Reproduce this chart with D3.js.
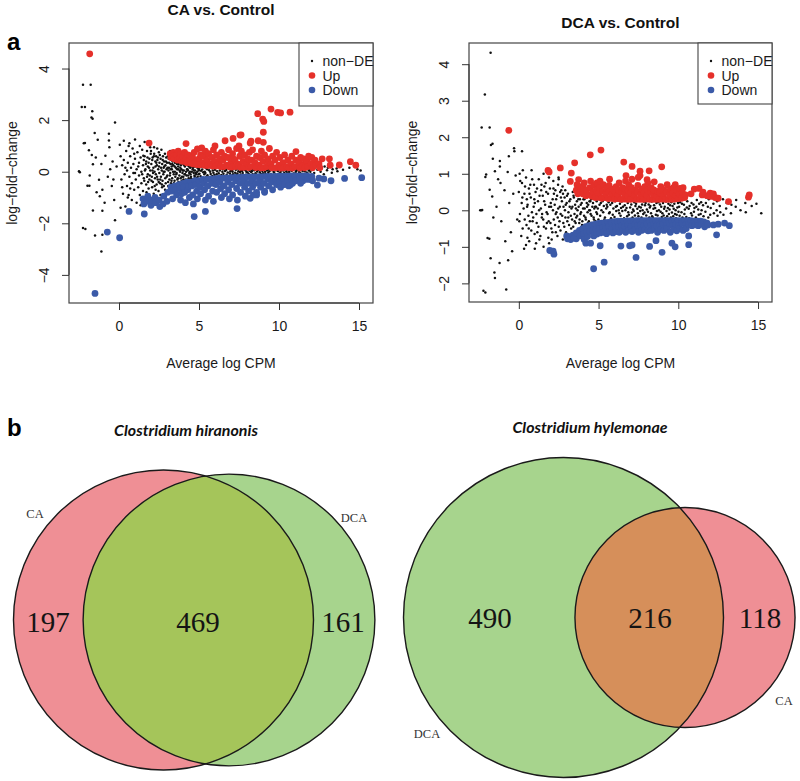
<!DOCTYPE html>
<html>
<head>
<meta charset="utf-8">
<script src="https://cdn.jsdelivr.net/npm/d3@7"></script>
<style>
  body { margin: 0; background: #fff; }
  svg { display: block; font-family: "Liberation Sans", Arial, sans-serif; }
  .axis path, .axis line { stroke: #333; stroke-width: 1; }
  .axis text { font-size: 14px; fill: #1a1a1a; font-family: "Liberation Sans", Arial, sans-serif; }
</style>
</head>
<body>
<svg id="fig" width="800" height="781"></svg>
<script>
// ---- data: MA plots (x = average log CPM, y = log-fold-change) ----
const cpmTicks = [0, 5, 10, 15];
const caFcTicks = [-4, -2, 0, 2, 4];
const dcaFcTicks = [-2, -1, 0, 1, 2, 3, 4];
const legendLabels = ['non\u2212DE', 'Up', 'Down'];

const caNonDE = [
  [-2.5,.02],[-2.45,-.02],[-2.25,3.37],[-1.77,3.37],[-2.33,2.51],[-2.13,2.51],[-1.67,2.34],[-1.72,2.1],[-1.65,2.05],[-.25,1.91],
  [-1.52,1.5],[-1.33,1.24],[-.63,1.47],[-.63,1.21],[-2.13,1.11],[-1.88,.83],[-1.63,.29],[-1.83,-.15],[-1.97,-.54],[-1.85,-.54],
  [-1.25,-.31],[-1.04,-.7],[-1.2,-.95],[-1.63,-1.5],[-1.04,-1.51],[-.25,-1.88],[-2.25,-2.18],[-2.1,-2.22],[-1.5,-2.47],[-1.04,-2.44],
  [-1.1,-3.09],[-2.2,1.1],[-1.45,.55],[-1.1,.3],[-.85,.62],[-.6,.95],[-.4,.4],[-.7,-.2],[-.45,-.55],[-.9,-1.2],
  [-.3,-1.1],[-1.4,-.8],[-.15,.2],[-.55,.1],[-1.7,.65],[-.35,-.3],
  [.05,1.05],[.1,.6],[.15,-.3],[.2,.25],[.25,-.85],[.3,1.2],[.3,.45],[.35,-.1],[.4,-1.35],[.45,.8],
  [.5,.05],[.5,-.55],[.55,.35],[.6,1.0],[.6,-.9],[.65,-.2],[.7,.6],[.75,.15],[.8,-1.1],[.8,-.45],
  [.85,.9],[.9,.3],[.9,-.05],[.95,-.7],[1.0,1.25],[1.0,.5],[1.05,-.3],[1.1,.1],[1.1,-1.2],[1.15,.75],
  [1.2,-.6],[1.25,.35],[1.25,-.15],[1.3,1.0],[1.3,-.9],[1.35,.55],[1.4,0],[1.4,-.45],[1.45,.85],[1.5,.25],
  [1.5,-.75],[1.55,-.25],[1.6,.6],[1.6,1.15],[1.65,.1],[1.65,-1.05],[1.7,-.5],[1.7,.4],[1.75,.8],[1.8,-.1],
  [1.8,.2],[1.85,-.65],[1.9,.5],[1.9,-.3],[1.95,.95],[1.95,.05],[.2,-.6],[.4,.15],[.7,-.65],[1.0,-.05],
  [1.2,.2],[1.45,-.1],[1.75,-.2],[.55,-1.0],[1.35,-1.3],[.95,.7],[1.55,.45],[1.85,.35],[.1,-1.4],[.65,1.1],
  [1.52,.62],[1.58,-.35],[1.62,.05],[1.68,.3],[1.72,-.8],[1.78,.55],[1.82,-.4],[1.88,.15],[1.92,-.15],[1.98,.7],
  [2.0,.8],[2.02,.3],[2.05,-.2],[2.07,-.6],[2.09,.05],[2.1,.55],[2.12,-.4],[2.15,.15],[2.17,-.85],[2.19,.95],
  [2.2,.7],[2.22,0],[2.25,-.25],[2.27,.4],[2.29,-.7],[2.3,-.1],[2.32,.6],[2.35,-.5],[2.37,.25],[2.39,.9],
  [2.4,.45],[2.42,-.3],[2.45,.1],[2.47,-.75],[2.49,.75],[2.5,.2],[2.52,-.05],[2.55,.65],[2.57,-.45],[2.59,-.9],
  [2.6,.5],[2.62,-.2],[2.65,.85],[2.67,.05],[2.69,-.6],[2.7,.3],[2.72,-.35],[2.75,.6],[2.77,-.1],[2.79,.15],
  [2.8,-.55],[2.82,.4],[2.85,0],[2.87,.7],[2.89,-.25],[2.9,.25],[2.92,-.45],[2.95,.55],[2.97,.1],[2.99,-.8],
  [2.03,-.35],[2.08,.45],[2.13,-.05],[2.18,.6],[2.23,-.55],[2.28,.2],[2.33,.35],[2.38,-.2],[2.43,.55],[2.48,-.4],
  [2.53,.35],[2.58,-.3],[2.63,.15],[2.68,-.5],[2.73,.45],[2.78,0],[2.83,.2],[2.88,-.7],[2.93,.4],[2.98,-.2],
  [3.0,.35],[3.02,-.15],[3.05,.6],[3.07,-.4],[3.09,.05],[3.1,.5],[3.12,.15],[3.15,-.3],[3.17,-.6],[3.19,.8],
  [3.2,-.05],[3.22,.3],[3.25,-.45],[3.27,.45],[3.29,.2],[3.3,.1],[3.32,-.25],[3.35,.4],[3.37,-.55],[3.39,.6],
  [3.4,.25],[3.42,-.1],[3.45,.5],[3.47,-.35],[3.49,0],[3.5,.35],[3.52,-.2],[3.55,.15],[3.57,-.5],[3.59,.45],
  [3.6,-.05],[3.62,.3],[3.65,-.3],[3.67,.55],[3.69,.1],[3.7,.2],[3.72,-.4],[3.75,.4],[3.77,-.15],[3.79,.05],
  [3.8,.45],[3.82,0],[3.85,-.25],[3.87,.25],[3.89,-.5],[3.9,.1],[3.92,-.35],[3.95,.35],[3.97,-.05],[3.99,.5],
  [3.03,.15],[3.08,-.55],[3.13,.35],[3.18,-.15],[3.23,.1],[3.28,-.35],[3.33,.3],[3.38,0],[3.43,-.45],[3.48,.2],
  [3.53,.4],[3.58,-.1],[3.63,.1],[3.68,-.25],[3.73,.3],[3.78,-.45],[3.83,.15],[3.88,.4],[3.93,-.2],[3.98,.05],
  [4.0,.3],[4.02,-.2],[4.05,.05],[4.07,-.45],[4.09,.4],[4.1,-.1],[4.12,.2],[4.15,.45],[4.17,-.3],[4.19,0],
  [4.2,.35],[4.22,-.15],[4.25,.1],[4.27,-.4],[4.29,.25],[4.3,.05],[4.32,.4],[4.35,-.25],[4.37,.2],[4.39,-.05],
  [4.4,.3],[4.42,-.35],[4.45,.15],[4.47,-.1],[4.49,.45],[4.5,-.2],[4.52,.25],[4.55,0],[4.57,.4],[4.59,-.4],
  [4.6,.1],[4.62,-.3],[4.65,.3],[4.67,-.05],[4.69,.2],[4.7,.35],[4.72,-.15],[4.75,.05],[4.77,-.35],[4.79,.25],
  [4.8,-.05],[4.82,.2],[4.85,-.25],[4.87,.4],[4.89,0],[4.9,.15],[4.92,-.2],[4.95,.3],[4.97,-.1],[4.99,.05],
  [4.03,-.3],[4.08,.25],[4.13,-.1],[4.18,.3],[4.23,-.35],[4.28,.1],[4.33,-.15],[4.38,.35],[4.43,0],[4.48,-.25],
  [4.53,.2],[4.58,-.3],[4.63,.15],[4.68,.05],[4.73,-.2],[4.78,.3],[4.83,-.1],[4.88,.2],[4.93,-.3],[4.98,.1],
  [5.0,.12],[5.03,-.08],[5.06,.28],[5.1,-.18],[5.13,.04],[5.16,.2],[5.2,.09],[5.23,-.25],[5.26,-.02],[5.3,.22],
  [5.33,-.1],[5.36,0],[5.4,-.05],[5.43,.15],[5.46,-.2],[5.5,.1],[5.53,-.14],[5.56,.25],[5.6,-.22],[5.63,.06],
  [5.66,.17],[5.7,0],[5.73,-.09],[5.76,.2],[5.8,.14],[5.83,-.17],[5.86,.05],[5.9,-.04],[5.93,.21],[5.96,-.12],
  [6.0,.08],[6.03,-.2],[6.06,.16],[6.1,-.1],[6.13,.02],[6.16,.23],[6.2,.18],[6.23,-.06],[6.26,-.16],[6.3,.05],
  [6.33,.12],[6.36,-.22],[6.4,-.13],[6.43,.19],[6.46,0],[6.5,.1],[6.53,-.08],[6.56,.2],[6.6,-.18],[6.63,.03],
  [6.66,.14],[6.7,.07],[6.73,-.12],[6.76,.22],[6.8,-.03],[6.83,.16],[6.86,-.19],[6.9,.11],[6.93,-.07],[6.96,.02],
  [7.0,-.15],[7.03,.2],[7.06,.06],[7.1,0],[7.13,-.1],[7.16,.13],[7.2,.17],[7.23,-.17],[7.26,-.04],[7.3,.08],
  [7.33,.21],[7.36,-.13],[7.4,-.07],[7.43,.12],[7.46,.02],[7.5,.15],[7.53,-.16],[7.56,-.01],[7.6,-.11],[7.63,.06],
  [7.66,.19],[7.7,.03],[7.73,-.05],[7.76,.14],[7.8,-.17],[7.83,.1],[7.86,.2],[7.9,.06],[7.93,-.12],[7.96,0],
  [8.0,.12],[8.03,-.03],[8.06,-.18],[8.1,-.08],[8.13,.18],[8.16,.04],[8.2,.14],[8.23,-.14],[8.26,-.01],[8.3,.02],
  [8.33,.09],[8.36,-.1],[8.4,-.15],[8.43,.2],[8.46,.06],[8.5,.1],[8.53,-.06],[8.56,.15],[8.6,-.12],[8.63,.01],
  [8.66,.18],[8.7,.07],[8.73,-.16],[8.76,.12],[8.8,-.02],[8.83,.14],[8.86,-.09],[8.9,.16],[8.93,-.12],[8.96,.03],
  [9.0,-.06],[9.03,.1],[9.06,-.17],[9.1,.13],[9.13,0],[9.16,-.08],[9.2,-.14],[9.23,.17],[9.26,.05],[9.3,.09],
  [9.33,-.04],[9.36,-.12],[9.4,.02],[9.43,.15],[9.46,-.16],[9.5,-.09],[9.53,.07],[9.56,.18],[9.6,.12],[9.63,-.13],
  [9.66,0],[9.7,-.04],[9.73,.16],[9.76,-.1],[9.8,.06],[9.83,-.15],[9.86,.13],[9.9,-.12],[9.93,.03],[9.96,.09],
  [10.0,.14],[10.03,-.06],[10.06,-.15],[10.1,0],[10.13,.11],[10.16,-.09],[10.2,-.13],[10.23,.17],[10.26,.05],[10.3,.08],
  [10.33,-.04],[10.36,-.16],[10.4,.15],[10.43,-.11],[10.46,.02],[10.5,-.06],[10.53,.09],[10.56,-.14],[10.6,.12],[10.63,0],
  [10.66,-.08],[10.7,-.15],[10.73,.16],[10.76,.06],[10.8,.04],[10.83,-.1],[10.86,.13],[10.9,-.07],[10.93,.1],[10.96,-.17],
  [11.0,.14],[11.03,-.05],[11.06,.02],[11.1,-.12],[11.13,.08],[11.16,.18],[11.2,.06],[11.23,-.14],[11.26,-.02],[11.3,-.04],
  [11.33,.15],[11.36,-.1],[11.4,.11],[11.43,-.08],[11.46,.04],[11.5,-.16],[11.53,.07],[11.56,.14],[11.6,.02],[11.63,-.12],
  [11.66,.1],[11.7,.16],[11.73,-.03],[11.76,-.09],[11.8,-.07],[11.83,.11],[11.86,.05],[11.9,.09],[11.93,-.15],[11.96,0],
  [12.0,.1],[12.05,-.12],[12.1,.2],[12.2,-.05],[12.25,.15],[12.4,.08],[12.45,-.18],[12.5,.22],[12.6,0],[12.65,.12],
  [12.8,-.1],[12.85,.2],[13.0,.06],[13.05,.15],[13.3,-.04],[13.35,.1],[13.6,.12],[13.65,.02],[14.0,.08],[14.4,.15],
  [14.9,.1],[15.1,.05]
];

const caUp = [
  [-1.83,4.57],[1.88,1.11],[4.19,1.09],[5.17,.92],[8.67,2.25],[8.98,2.04],[9.05,1.95],[9.5,2.43],[9.92,2.3],[10.1,2.28],
  [10.69,2.31],[9.02,1.53],[9.02,1.14],[7.63,1.43],[7.13,1.29],[6.63,1.2],[8.2,1.11],[13.15,.5],[13.77,.26],[14.46,.39],
  [14.8,.25],[13.2,.25],[12.7,.5],[7.56,1.42],[11.06,.78],[6.0,1.0],[3.4,.75],[7.5,1.0],[8.25,1.18],[8.7,1.2],
  [3.2,.7],[3.25,.55],[3.4,.6],[3.45,.5],[3.6,.65],[3.65,.45],[3.7,.8],[3.8,.55],[3.85,.7],[3.9,.42],
  [4.0,.6],[4.05,.4],[4.1,.75],[4.2,.5],[4.25,.35],[4.3,.65],[4.4,.45],[4.45,.62],[4.5,.33],[4.6,.55],
  [4.65,.3],[4.7,.75],[4.8,.4],[4.85,.28],[4.9,.88],[5.0,.5],[5.05,.27],[5.1,.65],[5.25,.35],[5.3,.6],
  [5.35,.25],[5.4,.8],[5.5,.45],[5.55,.24],[5.6,.7],[5.75,.3],[5.8,.55],[5.85,.22],[5.9,.85],[6.0,.4],
  [6.05,.22],[6.1,.65],[6.25,.3],[6.3,.5],[6.35,.2],[6.4,.75],[6.5,.45],[6.55,.2],[6.6,.6],[6.75,.25],
  [6.8,.55],[6.85,.85],[6.9,.19],[7.0,.35],[7.05,.18],[7.1,.7],[7.15,.5],[7.25,.45],[7.3,.2],[7.35,.9],
  [7.4,.3],[7.5,.25],[7.55,.6],[7.6,.17],[7.65,.8],[7.75,.4],[7.8,.17],[7.85,.65],[8.0,.3],[8.05,.5],
  [8.1,.16],[8.15,.75],[8.25,.2],[8.3,.45],[8.35,.85],[8.5,.35],[8.55,.16],[8.6,.6],[8.75,.25],[8.8,.55],
  [8.85,.15],[8.9,.8],[9.0,.4],[9.05,.15],[9.1,.65],[9.25,.2],[9.3,.5],[9.35,.35],[9.4,.9],[9.5,.3],
  [9.55,.15],[9.6,.6],[9.75,.45],[9.8,.15],[9.85,.75],[10.0,.25],[10.05,.55],[10.1,.14],[10.25,.35],[10.3,.15],
  [10.35,.65],[10.5,.2],[10.55,.45],[10.6,.15],[10.75,.3],[10.8,.6],[10.85,.14],[11.0,.2],[11.05,.45],[11.25,.35],
  [11.3,.14],[11.35,.55],[11.5,.25],[11.55,.5],[11.6,.15],[11.75,.4],[11.8,.2],[11.85,.6],[12.0,.3],[12.05,.55],
  [12.1,.15],[12.25,.45],[12.3,.25],[12.5,.3],[12.55,.15]
];

const caDown = [
  [-1.5,-4.72],[-.73,-2.34],[.04,-2.56],[.63,-1.54],[1.58,-1.64],[4.7,-1.74],[5.4,-1.54],[7.38,-1.43],[8.2,-1.03],[15.17,-.23],
  [14.1,-.26],[13.25,-.35],[12.4,-.52],[8.6,-.9],[9.1,-.8],[10.7,-.52],[11.5,-.35],[12.0,-.3],[12.8,-.28],
  [1.5,-1.05],[1.55,-1.25],[1.75,-1.15],[1.8,-.95],[2.0,-1.3],[2.05,-1.1],[2.25,-1.0],[2.3,-1.2],[2.5,-1.1],[2.55,-1.35],
  [2.75,-1.25],[2.8,-.95],[3.0,-1.15],[3.05,-.8],[3.25,-.6],[3.3,-.75],[3.35,-1.05],[3.5,-.55],[3.55,-.7],[3.6,-.9],
  [3.75,-.5],[3.8,-.65],[3.85,-1.1],[3.9,-.85],[4.0,-.45],[4.05,-.6],[4.1,-.8],[4.15,-1.2],[4.25,-.4],[4.3,-.7],
  [4.35,-.55],[4.4,-1.0],[4.5,-.4],[4.55,-.55],[4.6,-.9],[4.65,-1.25],[4.75,-.35],[4.8,-.5],[4.85,-.75],[4.9,-1.05],
  [5.0,-.35],[5.05,-.6],[5.1,-.85],[5.25,-.3],[5.3,-.45],[5.35,-.7],[5.4,-1.1],[5.5,-.3],[5.55,-.55],[5.6,-.95],
  [5.75,-.28],[5.8,-.45],[5.85,-.75],[5.9,-1.15],[6.0,-.27],[6.05,-.5],[6.1,-.8],[6.25,-.25],[6.3,-.4],[6.35,-.65],
  [6.4,-1.0],[6.5,-.25],[6.55,-.55],[6.6,-.85],[6.75,-.24],[6.8,-.4],[6.85,-.7],[6.9,-1.05],[7.0,-.23],[7.05,-.5],
  [7.1,-.9],[7.25,-.22],[7.3,-.35],[7.35,-.65],[7.4,-1.1],[7.5,-.22],[7.55,-.45],[7.6,-.8],[7.75,-.21],[7.8,-.35],
  [7.85,-.6],[7.9,-.95],[8.0,-.2],[8.05,-.45],[8.1,-.75],[8.25,-.2],[8.3,-.35],[8.35,-.6],[8.4,-.9],[8.5,-.2],
  [8.55,-.45],[8.6,-.8],[8.75,-.19],[8.8,-.35],[8.85,-.6],[9.0,-.19],[9.05,-.45],[9.1,-.75],[9.25,-.18],[9.3,-.3],
  [9.35,-.55],[9.5,-.18],[9.55,-.4],[9.6,-.7],[9.75,-.18],[9.8,-.3],[9.85,-.5],[10.0,-.17],[10.05,-.4],[10.1,-.6],
  [10.25,-.17],[10.3,-.3],[10.35,-.5],[10.5,-.17],[10.55,-.35],[10.6,-.55],[10.75,-.16],[10.8,-.3],[10.85,-.45],[11.0,-.16],
  [11.05,-.35],[11.25,-.16],[11.3,-.28],[11.35,-.45],[11.55,-.16],[11.75,-.16],[11.8,-.3],[12.05,-.18],[12.1,-.35],[12.5,-.25]
];

const dcaNonDE = [
  [-1.77,4.31],[-2.13,3.17],[-2.33,2.27],[-1.83,2.27],[-1.75,1.79],[-1.65,1.82],[-.3,1.7],[-.28,1.62],[-1.63,1.41],[-1.19,1.35],
  [-1.19,1.2],[-.63,1.48],[.2,1.62],[-2.1,.91],[-2.05,.98],[-1.5,1.07],[-2.42,0],[-2.35,0],[-2.3,.01],[-1.83,.56],
  [-1.67,.38],[-1.15,.75],[-1.96,-.76],[-1.85,-.78],[-1.77,-1.31],[-1.21,-1.44],[-.67,-1.37],[-1.53,-1.7],[-1.5,-1.85],[-2.22,-2.2],
  [-2.1,-2.25],[-.79,-2.17],[-.42,-1.12],[-1.4,.1],[-.9,.55],[-.6,.2],[-1.1,-.3],[-.5,-.6],[-.2,.95],[-.85,-.85],
  [-1.6,-.2],[-.35,.45],[-.1,-.25],[-1.3,.85],[-.7,1.05],
  [0,.5],[.03,-.3],[.05,1.0],[.15,-.7],[.18,.2],[.2,.75],[.3,.05],[.33,-1.05],[.35,.45],[.45,.9],
  [.48,-.4],[.5,.3],[.6,-.15],[.63,.6],[.65,-.85],[.75,.35],[.78,-.55],[.8,1.1],[.9,-.2],[.93,.1],
  [.95,.7],[1.05,.5],[1.08,-.9],[1.1,-.1],[1.2,.25],[1.23,-.45],[1.25,.85],[1.35,-.7],[1.38,.05],[1.4,.55],
  [1.5,.4],[1.53,-.25],[1.55,-1.0],[1.65,.15],[1.68,.75],[1.7,-.5],[1.8,-.1],[1.83,.45],[1.85,-.75],[1.95,.6],
  [1.98,-.35],[2.0,.2],[2.1,-.6],[2.12,.3],[2.14,0],[2.16,.8],[2.25,.15],[2.27,-.4],[2.29,.55],[2.31,-.1],
  [2.4,.4],[2.42,-.7],[2.44,-.2],[2.46,.7],[2.55,-.3],[2.57,.1],[2.59,.5],[2.61,-.55],[2.7,.25],[2.72,-.15],
  [2.74,.65],[2.76,-.8],[2.85,-.45],[2.87,.35],[2.89,0],[2.91,.55],
  [.07,-.1],[.09,.8],[.22,.35],[.24,-.5],[.37,-.25],[.39,.65],[.52,.1],[.54,-.75],[.67,.45],[.69,-.3],
  [.82,-.05],[.84,.85],[.97,.3],[.99,-.65],[1.12,-.35],[1.14,.6],[1.27,0],[1.29,-.8],[1.42,.7],[1.44,-.2],
  [1.57,-.45],[1.59,.25],[1.72,.5],[1.74,-.05],[1.87,-.3],[1.89,.9],[2.02,.1],[2.04,-.5],[2.17,.6],[2.19,-.25],
  [2.32,-.6],[2.34,.3],[2.47,.05],[2.49,.9],[2.62,-.1],[2.64,.35],[2.77,.45],[2.79,-.35],[2.92,-.2],[2.94,.15],
  [.55,.15],[.62,-.5],[.72,.7],[.86,-.3],[1.0,.2],[1.16,-.6],[1.3,.4],[1.46,-.1],[1.6,.65],[1.76,-.35],
  [1.9,.1],[2.06,-.8],[2.2,.45],[2.36,-.05],[2.5,-.45],[2.66,.55],[2.8,.1],[2.96,-.6],[3.02,.4],[3.1,-.2],
  [3.17,.25],[3.28,-.5],[3.36,.1],[3.43,.4],[3.5,-.3],[3.58,.05],[3.66,-.15],[3.73,.3],[3.81,-.25],[3.88,.15],
  [3.96,-.4],[4.03,.05],[4.11,.3],[4.18,-.2],[4.26,.2],[4.33,-.35],[4.41,0],[4.48,.25],[4.56,-.15],[4.63,.35],
  [4.71,-.25],[4.78,.1],[4.86,-.05],[4.93,.3],[.25,1.1],[.45,-.95],[1.0,-1.05],[1.9,-.9],[2.5,.85],[1.55,1.0],
  [3.0,.2],[3.04,-.3],[3.08,.45],[3.11,-.05],[3.15,-.4],[3.19,.1],[3.23,.3],[3.26,-.15],[3.3,.05],[3.34,-.25],
  [3.38,.5],[3.41,-.45],[3.45,.35],[3.49,-.1],[3.53,.15],[3.56,-.35],[3.6,-.2],[3.64,.25],[3.68,0],[3.71,.4],
  [3.75,.1],[3.79,-.35],[3.83,.3],[3.86,-.1],[3.9,-.05],[3.94,.2],[3.98,-.3],[4.01,.4],[4.05,.3],[4.09,-.15],
  [4.13,.05],[4.16,-.4],[4.2,-.25],[4.24,.35],[4.28,.1],[4.31,-.05],[4.35,.15],[4.39,-.3],[4.43,.25],[4.46,0],
  [4.5,-.1],[4.54,.3],[4.58,-.35],[4.61,.1],[4.65,.2],[4.69,-.2],[4.73,.05],[4.76,.35],[4.8,-.3],[4.84,.1],
  [4.88,.25],[4.91,-.1],[4.95,.05],[4.99,-.25],[5.03,.3],[5.06,.15],[5.1,-.15],[5.14,.2],[5.18,0],[5.21,-.3],
  [5.25,.25],[5.29,-.05],[5.33,.12],[5.36,-.25],[5.4,-.2],[5.44,.3],[5.48,.05],[5.51,.15],[5.55,.1],[5.59,-.3],
  [5.63,.22],[5.66,-.08],[5.7,-.05],[5.74,.15],[5.78,-.22],[5.81,.28],[5.85,.2],[5.89,-.12],[5.93,.05],[5.96,-.28],
  [6.0,-.18],[6.04,.25],[6.08,.1],[6.11,-.02],[6.15,.12],[6.19,-.25],[6.23,.28],[6.26,0],[6.3,-.08],[6.34,.18],
  [6.38,-.15],[6.41,.06],[6.45,.24],[6.49,-.02],[6.53,.1],[6.56,-.27],[6.6,-.22],[6.64,.14],[6.68,0],[6.71,.27],
  [6.75,.06],[6.79,-.16],[6.83,.2],[6.86,-.05],[6.9,-.12],[6.94,.26],[6.98,.08],[7.01,-.24],[7.05,.16],[7.09,-.06],
  [7.13,-.2],[7.16,.02],[7.2,-.02],[7.24,.22],[7.28,-.14],[7.31,.12],[7.35,.18],[7.39,-.24],[7.43,.04],[7.46,-.08],
  [7.5,-.16],[7.54,.1],[7.58,.26],[7.61,-.02],[7.65,.08],[7.69,-.2],[7.73,.16],[7.76,0],[7.8,-.1],[7.84,.24],
  [7.88,-.06],[7.91,.14],[7.95,.2],[7.99,-.14],[8.03,.02],[8.06,-.24],[8.1,-.04],[8.14,.16],[8.18,-.2],[8.21,.08],
  [8.25,.12],[8.29,-.08],[8.33,.24],[8.36,-.16],[8.4,-.2],[8.44,.04],[8.48,.14],[8.51,.26],[8.55,.06],[8.59,-.12],
  [8.63,.2],[8.66,-.02],[8.7,-.14],[8.74,.22],[8.78,0],[8.81,-.24],[8.85,.16],[8.89,-.04],[8.93,.1],[8.96,-.18],
  [9.0,-.08],[9.04,.2],[9.08,-.14],[9.11,.04],[9.15,.1],[9.19,-.22],[9.23,.24],[9.26,-.02],[9.3,-.16],[9.34,.06],
  [9.38,.18],[9.41,-.1],[9.45,.02],[9.49,.14],[9.53,-.2],[9.56,.22],[9.6,-.06],[9.64,.12],[9.68,-.16],[9.71,.04],
  [9.75,.18],[9.79,-.1],[9.83,0],[9.86,-.22],[9.9,-.12],[9.94,.08],[9.98,.2],[10.01,-.04],
  [10.05,.1],[10.08,-.15],[10.11,.22],[10.2,-.05],[10.23,.18],[10.26,-.2],[10.35,.15],[10.38,-.1],[10.41,.02],[10.5,-.18],
  [10.53,.08],[10.56,.25],[10.65,.04],[10.68,-.22],[10.71,.12],[10.8,-.08],[10.83,.2],[10.86,-.14],[10.95,.16],[10.98,-.04],
  [11.01,.06],[11.1,-.2],[11.13,.1],[11.16,.28],[11.25,.02],[11.28,-.12],[11.31,.18],[11.4,-.1],[11.43,.22],[11.46,0],
  [11.55,.14],[11.58,-.16],[11.7,-.04],[11.73,.2],[11.85,.1],[11.88,-.2],[11.91,.3],[12.0,-.12],[12.03,.06],[12.2,.18],
  [12.23,-.08],[12.4,0],[12.43,.25],[12.46,-.15],[12.6,.12],[12.63,-.05],[12.8,.3],[12.83,-.12],[13.0,.05],[13.03,.2],
  [13.3,-.08],[13.33,.15],[13.6,.1],[13.63,.28],[13.9,0],[14.2,.2],[14.23,-.05],[14.6,.12],[14.9,.18],[15.2,-.08]
];

const dcaUp = [
  [-.63,2.19],[1.83,1.09],[1.9,1.05],[2.6,1.16],[3.5,1.3],[3.29,1.02],[4.48,1.52],[5.15,1.65],[3.23,.79],[3.75,.84],
  [6.58,1.32],[7.1,1.2],[7.6,1.07],[7.6,.95],[8.17,1.08],[8.96,1.19],[8.04,.84],[9.81,.7],[11,.58],[12,.47],
  [13.15,.24],[14.4,.36],[14.45,.42],[10.3,.62],[11.3,.6],[11.8,.4],[12.3,.35],
  [3.6,.55],[3.65,.7],[3.7,.45],[3.8,.5],[3.85,.65],[4.0,.45],[4.05,.6],[4.1,.75],[4.2,.4],[4.25,.55],
  [4.4,.42],[4.45,.62],[4.5,.8],[4.6,.38],[4.65,.5],[4.7,.68],[4.8,.35],[4.85,.55],[4.9,.75],[5.0,.36],
  [5.03,.48],[5.06,.62],[5.09,.8],[5.2,.33],[5.25,.52],[5.3,.7],[5.4,.35],[5.45,.45],[5.5,.6],[5.6,.32],
  [5.63,.5],[5.66,.68],[5.69,.85],[5.8,.33],[5.85,.45],[5.9,.58],[6.0,.31],[6.05,.48],[6.1,.65],[6.2,.32],
  [6.23,.42],[6.26,.55],[6.29,.75],[6.4,.3],[6.45,.5],[6.5,.62],[6.6,.31],[6.63,.45],[6.66,.58],[6.69,.8],
  [6.72,.95],[6.8,.3],[6.83,.4],[6.86,.55],[6.89,.7],[7.0,.3],[7.03,.48],[7.06,.62],[7.09,.85],[7.2,.31],
  [7.25,.42],[7.3,.55],[7.4,.3],[7.43,.5],[7.46,.68],[7.49,.9],[7.6,.3],[7.65,.42],[7.7,.58],[7.8,.3],
  [7.85,.48],[7.9,.65],[8.0,.31],[8.03,.4],[8.06,.55],[8.09,.75],[8.2,.3],[8.25,.5],[8.3,.62],[8.4,.3],
  [8.43,.44],[8.46,.56],[8.49,.78],[8.6,.3],[8.65,.4],[8.7,.52],[8.8,.3],[8.85,.48],[8.9,.65],[9.0,.31],
  [9.05,.42],[9.1,.55],[9.2,.3],[9.25,.5],[9.3,.7],[9.4,.3],[9.45,.42],[9.5,.58],[9.6,.3],[9.65,.48],
  [9.7,.62],[9.8,.31],[9.85,.4],[9.9,.55],[10.0,.32],[10.05,.45],[10.1,.6],[10.2,.33],[10.25,.5],[10.4,.35],
  [10.45,.42],[10.8,.45],[11.5,.42],[11.55,.5],[12.0,.38],[12.2,.45],[12.5,.33]
];

const dcaDown = [
  [1.94,-1.1],[2.2,-1.2],[2.15,-1.12],[4.69,-1.6],[5.35,-1.42],[3.13,-.76],[5.1,-.97],[7.35,-1.29],[8.2,-.99],[8.98,-1.15],
  [9.6,-.9],[9.8,-1.0],[8.6,-.83],[10.65,-.94],[10.65,-.7],[12.4,-.67],[12.9,-.35],[13.2,-.42],[6.4,-.98],[6.95,-.97],
  [7.1,-.95],[4.2,-.9],[3.6,-.78],[4.3,-.7],
  [3.0,-.7],[3.05,-.78],[3.2,-.72],[3.25,-.8],[3.4,-.68],[3.45,-.76],[3.6,-.62],[3.8,-.55],[3.85,-.7],[4.0,-.5],
  [4.05,-.65],[4.1,-.8],[4.2,-.45],[4.25,-.6],[4.3,-.72],[4.4,-.42],[4.45,-.58],[4.5,-.9],[4.6,-.4],[4.65,-.55],
  [4.7,-.7],[4.8,-.38],[4.85,-.52],[4.9,-.65],[5.0,-.36],[5.05,-.5],[5.1,-.62],[5.2,-.35],[5.25,-.48],[5.3,-.6],
  [5.4,-.34],[5.45,-.5],[5.5,-.64],[5.6,-.33],[5.65,-.45],[5.7,-.58],[5.8,-.32],[5.85,-.48],[5.9,-.62],[6.0,-.31],
  [6.05,-.44],[6.1,-.58],[6.2,-.3],[6.25,-.46],[6.3,-.6],[6.4,-.3],[6.45,-.42],[6.5,-.55],[6.6,-.3],[6.65,-.45],
  [6.7,-.6],[6.8,-.29],[6.85,-.4],[6.9,-.54],[7.0,-.29],[7.05,-.44],[7.1,-.58],[7.2,-.29],[7.25,-.4],[7.3,-.52],
  [7.4,-.28],[7.45,-.42],[7.5,-.6],[7.6,-.28],[7.65,-.4],[7.7,-.55],[7.8,-.28],[7.85,-.42],[7.9,-.52],[8.0,-.28],
  [8.05,-.38],[8.1,-.56],[8.2,-.28],[8.25,-.42],[8.3,-.55],[8.4,-.28],[8.45,-.38],[8.5,-.5],[8.6,-.28],[8.65,-.42],
  [8.7,-.6],[8.8,-.28],[8.85,-.4],[8.9,-.52],[9.0,-.28],[9.05,-.38],[9.1,-.55],[9.2,-.28],[9.25,-.42],[9.3,-.5],
  [9.4,-.28],[9.45,-.36],[9.5,-.6],[9.6,-.28],[9.65,-.42],[9.7,-.52],[9.8,-.28],[9.85,-.38],[9.9,-.56],[10.0,-.28],
  [10.05,-.42],[10.1,-.5],[10.2,-.28],[10.25,-.36],[10.3,-.55],[10.4,-.28],[10.45,-.4],[10.5,-.5],[10.6,-.28],[10.65,-.38],
  [10.8,-.28],[10.85,-.42],[11.0,-.3],[11.05,-.4],[11.2,-.3],[11.25,-.42],[11.4,-.3],[11.45,-.38],[11.6,-.32],[11.65,-.45],
  [11.8,-.35],[11.85,-.4],[12.2,-.4],[12.5,-.38]
];

// ---- data: Venn diagrams ----
const hiranonisSets = ['CA', 'DCA'];
const hiranonisCounts = [197, 469, 161];   // CA only, both, DCA only
const hylemonaeSets = ['DCA', 'CA'];
const hylemonaeCounts = [490, 216, 118];   // DCA only, both, CA only

const svg = d3.select('#fig');
const cpmDomain = [-3.125, 15.875];
const upColor = '#e5302a';
const downColor = '#3b5aa8';

function drawMA(p) {
  const x = d3.scaleLinear().domain(cpmDomain).range([p.left, p.right]);
  const y = d3.scaleLinear().domain(p.yDomain).range([p.bottom, p.top]);
  const g = svg.append('g');
  const midX = (p.left + p.right) / 2;

  g.append('g').selectAll('circle').data(p.nonDE).join('circle')
    .attr('cx', (d) => x(d[0])).attr('cy', (d) => y(d[1])).attr('r', 1.25).attr('fill', '#111');
  g.append('g').selectAll('circle').data(p.up).join('circle')
    .attr('cx', (d) => x(d[0])).attr('cy', (d) => y(d[1])).attr('r', 3.4).attr('fill', upColor);
  g.append('g').selectAll('circle').data(p.down).join('circle')
    .attr('cx', (d) => x(d[0])).attr('cy', (d) => y(d[1])).attr('r', 3.4).attr('fill', downColor);

  g.append('rect')
    .attr('x', p.left).attr('y', p.top)
    .attr('width', p.right - p.left).attr('height', p.bottom - p.top)
    .attr('fill', 'none').attr('stroke', '#444').attr('stroke-width', 1.2);

  const xAxis = d3.axisBottom(x).tickValues(cpmTicks).tickSize(7).tickSizeOuter(0).tickPadding(11);
  const xa = g.append('g').attr('class', 'axis').attr('transform', `translate(0,${p.bottom})`).call(xAxis);
  xa.select('.domain').attr('d', `M${x(cpmTicks[0])},0H${x(cpmTicks[cpmTicks.length - 1])}`);

  const yAxis = d3.axisLeft(y).tickValues(p.yTicks).tickSize(7).tickSizeOuter(0);
  const ya = g.append('g').attr('class', 'axis').attr('transform', `translate(${p.left},0)`).call(yAxis);
  ya.select('.domain').attr('d', `M0,${y(p.yTicks[0])}V${y(p.yTicks[p.yTicks.length - 1])}`);
  ya.selectAll('.tick text')
    .attr('x', 0).attr('dy', 0)
    .attr('text-anchor', 'middle')
    .attr('transform', 'translate(-20,0) rotate(-90)');

  g.append('text').attr('x', midX).attr('y', 368).attr('text-anchor', 'middle')
    .attr('font-size', 14).attr('fill', '#1a1a1a').text('Average log CPM');
  g.append('text').attr('text-anchor', 'middle').attr('font-size', 14).attr('fill', '#1a1a1a')
    .attr('transform', `translate(${p.left - 52},${(p.top + p.bottom) / 2}) rotate(-90)`)
    .text('log\u2212fold\u2212change');
  g.append('text').attr('x', midX).attr('y', p.titleY).attr('text-anchor', 'middle')
    .attr('font-size', 15.5).attr('font-weight', 'bold').attr('fill', '#111').text(p.title);

  // legend
  const lg = g.append('g').attr('transform', `translate(${p.right - 74},${p.top})`);
  lg.append('rect').attr('width', 74).attr('height', p.legendH)
    .attr('fill', '#fff').attr('stroke', '#444').attr('stroke-width', 1.1);
  const rows = lg.selectAll('g.row').data(legendLabels).join('g')
    .attr('class', 'row')
    .attr('transform', (d, i) => `translate(0,${18 + i * 14.5})`);
  rows.append('circle').attr('cx', 13).attr('cy', 0)
    .attr('r', (d, i) => (i === 0 ? 1.2 : 3.3))
    .attr('fill', (d, i) => [ '#111', upColor, downColor ][i]);
  rows.append('text').attr('x', 23.5).attr('y', 5).attr('font-size', 14).attr('fill', '#1a1a1a').text((d) => d);
}

drawMA({ title: 'CA vs. Control', titleY: 15, left: 69, right: 373, top: 43, bottom: 303,
  yDomain: [-5.09, 4.99], yTicks: caFcTicks, nonDE: caNonDE, up: caUp, down: caDown, legendH: 63 });
drawMA({ title: 'DCA vs. Control', titleY: 28, left: 469, right: 772, top: 43, bottom: 302,
  yDomain: [-2.51, 4.58], yTicks: dcaFcTicks, nonDE: dcaNonDE, up: dcaUp, down: dcaDown, legendH: 61 });

svg.append('text').attr('x', 7).attr('y', 50).attr('font-size', 24).attr('font-weight', 'bold').text('a');
svg.append('text').attr('x', 7).attr('y', 436).attr('font-size', 24).attr('font-weight', 'bold').text('b');

function drawVenn(v, idx) {
  const [onlyA, both, onlyB] = v.counts;
  const totals = [onlyA + both, both + onlyB];
  const r = d3.scaleSqrt().domain([0, d3.max(totals)]).range([0, v.maxR]);
  const g = svg.append('g');
  const clipId = `venn-clip-${idx}`;
  g.append('clipPath').attr('id', clipId).append('circle')
    .attr('cx', v.cx[0]).attr('cy', v.cy).attr('r', r(totals[0]));

  g.selectAll('circle.set').data(totals).join('circle')
    .attr('class', 'set')
    .attr('cx', (d, i) => v.cx[i]).attr('cy', v.cy).attr('r', (d) => r(d))
    .attr('fill', (d, i) => v.colors[i]);
  g.append('circle').attr('cx', v.cx[1]).attr('cy', v.cy).attr('r', r(totals[1]))
    .attr('fill', v.overlapColor).attr('clip-path', `url(#${clipId})`);
  g.selectAll('circle.edge').data(totals).join('circle')
    .attr('class', 'edge')
    .attr('cx', (d, i) => v.cx[i]).attr('cy', v.cy).attr('r', (d) => r(d))
    .attr('fill', 'none').attr('stroke', '#1a1a1a').attr('stroke-width', 1.4);

  g.selectAll('text.count').data(v.counts).join('text')
    .attr('class', 'count')
    .attr('x', (d, i) => v.countX[i]).attr('y', v.countY)
    .attr('text-anchor', 'middle')
    .attr('font-family', '"Liberation Serif", "Times New Roman", serif')
    .attr('font-size', 29).attr('fill', '#141414').text((d) => d);

  g.selectAll('text.setname').data(v.sets).join('text')
    .attr('class', 'setname')
    .attr('x', (d, i) => v.labelPos[i][0]).attr('y', (d, i) => v.labelPos[i][1])
    .attr('text-anchor', 'middle')
    .attr('font-family', '"Liberation Serif", "Times New Roman", serif')
    .attr('font-size', 12.5).attr('fill', '#333').text((d) => d);

  g.append('text').attr('x', v.titleX).attr('y', v.titleY).attr('text-anchor', 'middle')
    .attr('font-family', 'Lato, "Liberation Sans", sans-serif')
    .attr('font-size', 16).attr('font-weight', 'bold').attr('font-style', 'italic')
    .attr('fill', '#111').text(v.title);
}

drawVenn({ title: 'Clostridium hiranonis', titleX: 186, titleY: 436, sets: hiranonisSets, counts: hiranonisCounts,
  cx: [163.5, 229], cy: 620, maxR: 150,
  colors: ['#ef8f95', '#a7d48d'], overlapColor: '#a5c55a',
  countX: [48, 198, 343], countY: 632, labelPos: [[35, 518], [354, 522]] }, 0);
drawVenn({ title: 'Clostridium hylemonae', titleX: 590, titleY: 433, sets: hylemonaeSets, counts: hylemonaeCounts,
  cx: [563.5, 685], cy: 617.5, maxR: 160,
  colors: ['#a7d48d', '#ef8f95'], overlapColor: '#d68f5a',
  countX: [490, 650, 760], countY: 628, labelPos: [[427, 738], [784, 705]] }, 1);
</script>
</body>
</html>
